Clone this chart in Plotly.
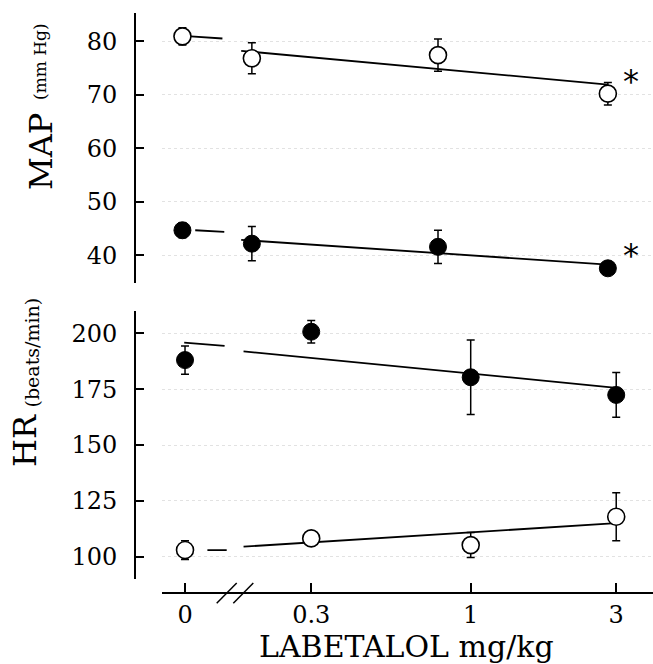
import math
import plotly.graph_objects as go

# ---------------- data ----------------
doses = [0, 0.3, 1, 3]
dose_labels = ["0", "0.3", "1", "3"]

map_open = [80.9, 76.8, 77.4, 70.2]
map_open_sem = [1.6, 2.9, 3.0, 2.1]
map_filled = [44.7, 42.2, 41.6, 37.6]
map_filled_sem = [1.4, 3.2, 3.1, 1.0]

hr_filled = [188.0, 200.7, 180.3, 172.4]
hr_filled_sem = [6.3, 5.0, 16.7, 10.0]
hr_open = [103.0, 108.2, 105.2, 117.9]
hr_open_sem = [4.2, 1.5, 5.6, 10.7]

# regression lines (dose endpoints, values)
map_fit_x = [0.28, 3.0]
map_open_fit = [78.2, 71.9]
map_filled_fit = [42.9, 38.3]
map_open_stub_x = [0.202, 0.248]
map_open_stub = [80.9, 80.5]
map_filled_stub_x = [0.208, 0.251]
map_filled_stub = [44.7, 44.4]

hr_fit_x = [0.18, 3.0]
hr_filled_fit = [191.9, 175.6]
hr_open_fit = [104.5, 115.0]
hr_filled_stub_x = [0.115, 0.156]
hr_filled_stub = [195.8, 194.4]
hr_open_stub_x = [0.137, 0.1585]
hr_open_stub = [103.0, 103.0]

map_ticks = [40, 50, 60, 70, 80]
hr_ticks = [100, 125, 150, 175, 200]

# ---------------- layout helpers ----------------
W, H = 653, 664
ZERO_TOP = 0.1915     # stand-in position of dose 0 on the (log) top axis
ZERO_BOT = 0.1157     # stand-in position of dose 0 on the (log) bottom axis


def px_x(p):
    return p / W


def px_y(p):
    return 1 - p / H


def xpos(vals, zero):
    return [zero if v == 0 else v for v in vals]


SERIF = "DejaVu Serif"
fig = go.Figure()

open_marker = dict(symbol="circle", size=17, color="white", line=dict(color="black", width=1.6))
filled_marker = dict(symbol="circle", size=17, color="black", line=dict(color="black", width=1))


def err(a):
    return dict(type="data", array=a, visible=True, color="black", thickness=1.5, width=4)


line_style = dict(color="black", width=1.8)

# ---- top panel (MAP) ----
for xs, ys in [(map_fit_x, map_open_fit), (map_fit_x, map_filled_fit),
               (map_open_stub_x, map_open_stub), (map_filled_stub_x, map_filled_stub)]:
    fig.add_trace(go.Scatter(x=xs, y=ys, mode="lines", line=line_style,
                             xaxis="x", yaxis="y", showlegend=False))
fig.add_trace(go.Scatter(x=xpos(doses, ZERO_TOP), y=map_open, mode="markers", marker=open_marker,
                         error_y=err(map_open_sem), xaxis="x", yaxis="y", showlegend=False))
fig.add_trace(go.Scatter(x=xpos(doses, ZERO_TOP), y=map_filled, mode="markers", marker=filled_marker,
                         error_y=err(map_filled_sem), xaxis="x", yaxis="y", showlegend=False))

# ---- bottom panel (HR) ----
for xs, ys in [(hr_fit_x, hr_filled_fit), (hr_fit_x, hr_open_fit),
               (hr_filled_stub_x, hr_filled_stub), (hr_open_stub_x, hr_open_stub)]:
    fig.add_trace(go.Scatter(x=xs, y=ys, mode="lines", line=line_style,
                             xaxis="x2", yaxis="y2", showlegend=False))
fig.add_trace(go.Scatter(x=xpos(doses, ZERO_BOT), y=hr_filled, mode="markers", marker=filled_marker,
                         error_y=err(hr_filled_sem), xaxis="x2", yaxis="y2", showlegend=False))
fig.add_trace(go.Scatter(x=xpos(doses, ZERO_BOT), y=hr_open, mode="markers", marker=open_marker,
                         error_y=err(hr_open_sem), xaxis="x2", yaxis="y2", showlegend=False))

tickfont = dict(family=SERIF, size=24, color="black")
yax_common = dict(anchor="free", position=px_x(135), showline=True, linecolor="black", linewidth=2,
                  ticks="inside", ticklen=8, tickwidth=1.5, tickcolor="black", tickfont=tickfont,
                  showgrid=True, gridcolor="#e2e2e2", griddash="dot", gridwidth=1,
                  zeroline=False, ticklabelstandoff=12, fixedrange=True)

fig.update_layout(
    width=W, height=H, margin=dict(l=0, r=0, t=0, b=0),
    paper_bgcolor="white", plot_bgcolor="white",
    xaxis=dict(type="log", domain=[px_x(162), 1], range=[(162 - 438) / 356, (653 - 438) / 356],
               visible=False, anchor="y"),
    yaxis=dict(domain=[px_y(283.3), px_y(13.3)], range=[34.8, 85.2], tickvals=map_ticks, **yax_common),
    xaxis2=dict(type="log", domain=[px_x(162), 1], range=[(162 - 470.7) / 305, (653 - 470.7) / 305],
                anchor="free", position=px_y(592.7), showline=True, linecolor="black", linewidth=2,
                ticks="inside", ticklen=9, tickwidth=1.5, tickcolor="black",
                tickvals=xpos(doses, ZERO_BOT), ticktext=dose_labels, tickfont=tickfont,
                showgrid=False, zeroline=False),
    yaxis2=dict(domain=[px_y(579.3), px_y(310.7)], range=[89.9, 210.1], tickvals=hr_ticks, **yax_common),
)

# axis-break marks on the x axis
for x0 in (216.7, 233.3):
    fig.add_shape(type="line", xref="paper", yref="paper",
                  x0=px_x(x0), y0=px_y(603.3), x1=px_x(x0 + 20), y1=px_y(583.0),
                  line=dict(color="black", width=1.5))


def label(text, cx, cy, size, angle=0):
    fig.add_annotation(text=text, xref="paper", yref="paper", x=px_x(cx), y=px_y(cy),
                       xanchor="center", yanchor="middle", textangle=angle, showarrow=False,
                       font=dict(family=SERIF, size=size, color="black"))


label("LABETALOL mg/kg", 406, 646, 30)
label("MAP", 40.5, 151.5, 32, -90)
label("(mm Hg)", 39.5, 61.5, 17, -90)
label("HR", 25, 440, 32, -90)
label("(beats/min)", 31, 352.5, 19, -90)

# significance asterisks
for yv in (map_open[-1], map_filled[-1]):
    fig.add_annotation(text="*", x=math.log10(doses[-1]), y=yv, xref="x", yref="y",
                       showarrow=False, xshift=23, yshift=13,
                       font=dict(family="DejaVu Sans", size=32, color="black"))

fig.write_html("out.html")
